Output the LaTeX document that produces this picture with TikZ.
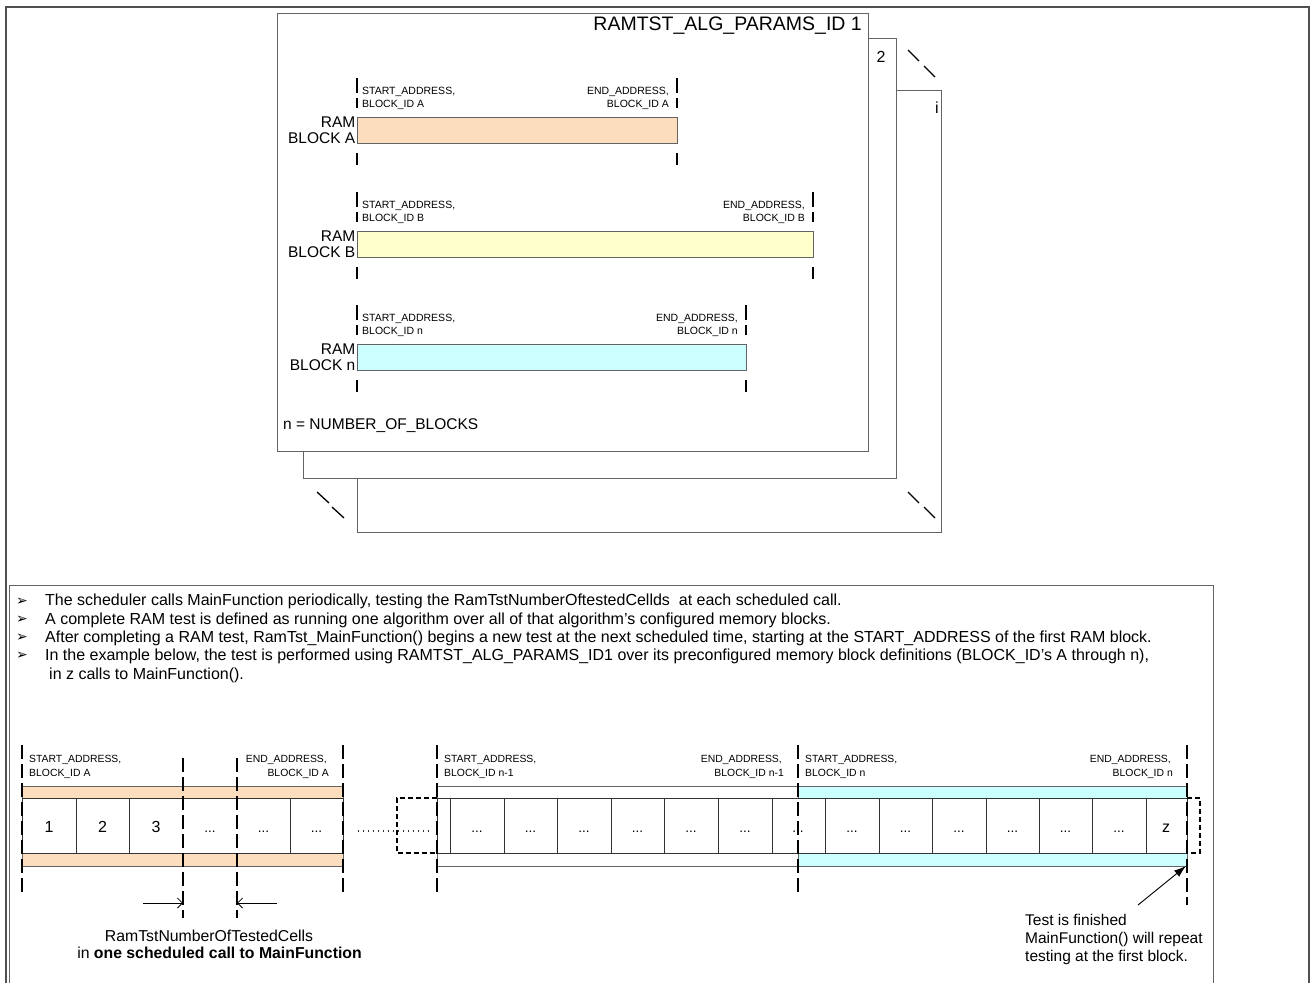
\documentclass[tikz,border=0pt]{standalone}
\usepackage{fontspec}
\setmainfont{Liberation Sans}
\newfontfamily\symfont{DejaVu Sans}
\usetikzlibrary{arrows.meta}
\definecolor{peach}{RGB}{252,222,190}
\definecolor{lyellow}{RGB}{255,255,204}
\definecolor{lcyan}{RGB}{204,255,255}
\definecolor{framegray}{RGB}{80,80,80}
\definecolor{linegray}{RGB}{100,100,100}
\tikzset{
 frameline/.style={draw=framegray, line width=1.8pt},
 boxline/.style={draw=linegray, line width=1pt},
 stackbox/.style={draw=linegray, fill=white, line width=1pt},
 barline/.style={draw=linegray, line width=0.9pt},
 celline/.style={draw=black!80, line width=0.8pt},
 tickline/.style={draw=black, line width=1.8pt},
 btick/.style={draw=black, line width=1.8pt, dash pattern=on 14pt off 5pt},
 dbox/.style={draw=black, line width=1.5pt, dash pattern=on 5pt off 3pt},
 slashline/.style={draw=black, line width=1.3pt},
 dotline/.style={draw=black!80, line width=1.2pt, dash pattern=on 1.2pt off 3.8pt},
 lbltop/.style={inner sep=0pt, font=\fontsize{10.5}{12}\selectfont},
 lblbot/.style={inner sep=0pt, font=\fontsize{10.4}{12}\selectfont},
 bigtxt/.style={inner sep=0pt, font=\fontsize{15.5}{17}\selectfont},
 celltxt/.style={inner sep=0pt, font=\fontsize{16}{18}\selectfont},
 dottxt/.style={inner sep=0pt, font=\fontsize{13.5}{15}\selectfont},
 bultxt/.style={inner sep=0pt, font=\fontsize{16}{18}\selectfont, anchor=base west},
 bulsym/.style={inner sep=0pt, font=\symfont\fontsize{14}{16}\selectfont, anchor=base west},
 fintxt/.style={inner sep=0pt, font=\fontsize{15.5}{17}\selectfont, anchor=base west},
}
\begin{document}
\begin{tikzpicture}[x=1pt,y=-1pt]
\useasboundingbox (0,0) rectangle (1316,983);
\fill[white] (0,0) rectangle (1316,983);
% outer frame and lower box
\draw[frameline] (6,983) -- (6,7) -- (1309,7) -- (1309,983);
\draw[boxline] (9.5,983) -- (9.5,585) -- (1213,585) -- (1213,983);
% stacked parameter sets
\draw[stackbox] (357,90) rectangle (941,532);
\draw[stackbox] (303,38) rectangle (896,478);
\draw[stackbox] (277,13) rectangle (868,451);
\node[inner sep=0pt, font=\fontsize{19.5}{21}\selectfont, anchor=base east] (title) at (862,30) {RAMTST\_ALG\_PARAMS\_ID 1};
\node[inner sep=0pt, font=\fontsize{16}{18}\selectfont, anchor=base] (two) at (881,62.7) {2};
\node[inner sep=0pt, font=\fontsize{16}{18}\selectfont, anchor=base] (ith) at (937,113) {i};
\draw[slashline] (908,50) -- (919,61);
\draw[slashline] (924,66) -- (935,77);
\draw[slashline] (317,492) -- (329,503);
\draw[slashline] (332,507) -- (344,518);
\draw[slashline] (908,492) -- (919,503);
\draw[slashline] (924,507) -- (935,518);
% RAM blocks in set 1
\foreach \id/\yb/\xe/\col/\bl in {a/117/677/peach/A, b/231/813/lyellow/B, n/344/746/lcyan/n} {
  \filldraw[barline, fill=\col] (357,\yb) rectangle (\xe,\yb+26);
  \foreach \xx in {357,\xe} {
    \draw[tickline] (\xx,\yb-39) -- (\xx,\yb-24);
    \draw[tickline] (\xx,\yb-19) -- (\xx,\yb-9);
    \draw[tickline] (\xx,\yb+36) -- (\xx,\yb+48);
  }
  \node[lbltop, anchor=base west] (sa\id) at (362,\yb-22.4) {START\_ADDRESS,};
  \node[lbltop, anchor=base west] (sb\id) at (362,\yb-9.7) {BLOCK\_ID \bl};
  \node[lbltop, anchor=base east] (ea\id) at (\xe-8,\yb-22.4) {END\_ADDRESS,};
  \node[lbltop, anchor=base east] (eb\id) at (\xe-8,\yb-9.7) {BLOCK\_ID \bl};
  \node[bigtxt, anchor=base east] (ram\id) at (355.5,\yb+10.5) {RAM};
  \node[bigtxt, anchor=base east] (blk\id) at (355.5,\yb+26.5) {BLOCK \bl};
}
\node[bigtxt, anchor=base west] (nblocks) at (283,429.5) {n = NUMBER\_OF\_BLOCKS};
% bullet text
\node[bulsym] (b1) at (16,605) {➢};
\node[bulsym] (b2) at (16,623.3) {➢};
\node[bulsym] (b3) at (16,641.6) {➢};
\node[bulsym] (b4) at (16,659.9) {➢};
\node[bultxt] (t1) at (45,605.8) {The scheduler calls MainFunction periodically, testing the RamTstNumberOftestedCellds\ \ at each scheduled call.};
\node[bultxt] (t2) at (45,624.1) {A complete RAM test is defined as running one algorithm over all of that algorithm’s configured memory blocks.};
\node[bultxt] (t3) at (45,642.4) {After completing a RAM test, RamTst\_MainFunction() begins a new test at the next scheduled time, starting at the START\_ADDRESS of the first RAM block.};
\node[bultxt] (t4) at (45,660.7) {In the example below, the test is performed using RAMTST\_ALG\_PARAMS\_ID1 over its preconfigured memory block definitions (BLOCK\_ID’s A through n),};
\node[bultxt] (t5) at (49,679) {in z calls to MainFunction().};
% bottom strip bars
\filldraw[barline, fill=peach] (22,786) rectangle (343,798);
\filldraw[barline, fill=peach] (22,853) rectangle (343,866);
\draw[barline] (437,786) rectangle (798,798);
\draw[barline] (437,853) rectangle (798,866);
\filldraw[barline, fill=lcyan] (798,786) rectangle (1187,798);
\filldraw[barline, fill=lcyan] (798,853) rectangle (1187,866);
\draw[celline] (22,798) rectangle (343,853);
\draw[celline] (437,798) rectangle (1187,853);
\foreach \x in {76,129,290,450,504,557,611,664,718,772,825,879,932,986,1039,1092,1146}
  \draw[celline] (\x,798) -- (\x,853);
\foreach \x/\t [count=\k] in {49/1,102.5/2,156/3}
  \node[celltxt, anchor=base] (c\k) at (\x,832) {\t};
\foreach \x [count=\k] in {210,263.5,316.5,477,530.5,584,637.5,691,745,798,852,905.5,959,1012.5,1065.5,1119}
  \node[dottxt, anchor=base] (d\k) at (\x,832) {...};
\node[celltxt, anchor=base] (cz) at (1166,832) {z};
\draw[dotline] (358,831) -- (430,831);
\draw[dbox] (437,798) -- (397,798) -- (397,853) -- (437,853);
\draw[dbox] (1187,798) -- (1200,798) -- (1200,853) -- (1187,853);
\foreach \x in {22,343,437,798}
  \draw[btick] (\x,745) -- (\x,895);
\draw[btick] (1187,745) -- (1187,905);
\foreach \x in {183,237}
  \draw[btick] (\x,758) -- (\x,918);
\foreach \id/\xs/\xe/\bl in {a/22/343/A, m/437/798/n-1, z/798/1187/n} {
  \node[lblbot, anchor=base west] (bs\id) at (\xs+7,762.7) {START\_ADDRESS,};
  \node[lblbot, anchor=base west] (bi\id) at (\xs+7,776.7) {BLOCK\_ID \bl};
  \node[lblbot, anchor=base east] (be\id) at (\xe-16,762.7) {END\_ADDRESS,};
  \node[lblbot, anchor=base east] (bj\id) at (\xe-14,776.7) {BLOCK\_ID \bl};
}
% cells per call
\coordinate (a1s) at (143,903); \coordinate (a1e) at (183,903);
\coordinate (a2s) at (277,903); \coordinate (a2e) at (237,903);
\draw[line width=0.8pt, -{Straight Barb[length=5pt,width=10pt]}] (a1s) -- (a1e);
\draw[line width=0.8pt, -{Straight Barb[length=5pt,width=10pt]}] (a2s) -- (a2e);
\node[inner sep=0pt, font=\fontsize{15.8}{17}\selectfont, anchor=base] (rtn) at (209,941.5) {RamTstNumberOfTestedCells};
\node[inner sep=0pt, font=\fontsize{15.8}{17}\selectfont, anchor=base] (rtn2) at (219.5,958.5) {in \textbf{one scheduled call to MainFunction}};
% finished note
\node[fintxt] (f1) at (1025,925.5) {Test is finished};
\node[fintxt] (f2) at (1025,943.5) {MainFunction() will repeat};
\node[fintxt] (f3) at (1025,961.5) {testing at the first block.};
\coordinate (fin) at (1138,905); \coordinate (zend) at (1186,866);
\draw[line width=0.9pt, -{Latex[length=12pt,width=8pt]}] (fin) -- (zend);
\end{tikzpicture}
\end{document}
